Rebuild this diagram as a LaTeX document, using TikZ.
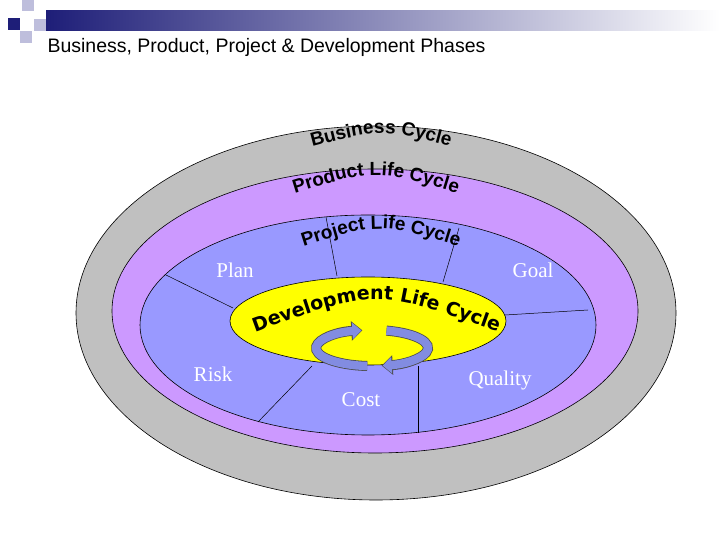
\documentclass[tikz,border=0pt]{standalone}
\usepackage{fontspec}
\setmainfont{Liberation Serif}
\setsansfont{Liberation Sans}
\newfontfamily\heavy{DejaVu Sans}
\usetikzlibrary{decorations.text,arrows.meta}
\definecolor{bgray}{RGB}{192,192,192}
\definecolor{bpurple}{RGB}{204,153,255}
\definecolor{bblue}{RGB}{153,153,255}
\definecolor{byellow}{RGB}{255,255,0}
\definecolor{navy}{RGB}{30,30,120}
\definecolor{lnavy}{RGB}{190,190,220}
\definecolor{ringblue}{RGB}{130,140,225}
\tikzset{
  ring/.style={draw=black, line width=0.6pt},
  divider/.style={draw=black, line width=0.5pt},
  lbl/.style={text=white, font=\fontsize{21}{23}\selectfont},
  arctext/.style={decorate, decoration={text along path, text align=center,
     text={#1}, text color=black}},
  cycout/.style={draw=black!70, line width=10pt, -{Triangle[width=19pt,length=11pt]}},
  cyc/.style={draw=ringblue, line width=8.4pt, -{Triangle[width=16pt,length=9pt]}}
}
\begin{document}
\begin{tikzpicture}[x=1pt,y=1pt]
\useasboundingbox (0,0) rectangle (720,540);
\fill[white] (0,0) rectangle (720,540);
% header
\shade[left color=navy, right color=white] (46,509) rectangle (720,529);
\fill[lnavy] (22,529) rectangle (34,540);
\fill[navy] (8,510) rectangle (20,522);
\fill[lnavy] (34,509) rectangle (46,521);
\fill[lnavy] (20,497) rectangle (32,509);
\node[anchor=base west, font=\sffamily\fontsize{19.5}{21}\selectfont] (title) at (44,487) {Business, Product, Project \& Development Phases};
% ellipses
\path[ring, fill=bgray] (376,227) ellipse [x radius=300, y radius=187];
\path[ring, fill=bpurple] (375,229) ellipse [x radius=263, y radius=142];
\path[ring, fill=bblue] (368,215) ellipse [x radius=228, y radius=110];
\path[divider] (326,323) -- (337,264);
\path[divider] (459,312) -- (443,258);
\path[divider] (166,265) -- (233,232);
\path[divider] (505,225) -- (588,230);
\path[divider] (312,174) -- (258,118);
\path[divider] (418,174) -- (418,107);
\path[ring, fill=byellow] (368,219) ellipse [x radius=138, y radius=44];
% labels
\node[lbl] (plan) at (235,270) {Plan};
\node[lbl] (goal) at (533,270) {Goal};
\node[lbl] (risk) at (213,166) {Risk};
\node[lbl] (cost) at (361,140) {Cost};
\node[lbl] (quality) at (500,160) {Quality};
% arched texts
\path[arctext={|\sffamily\bfseries\fontsize{19}{19}\selectfont|Business Cycle}] (300,390) .. controls (383,412) .. (462,390);
\path[arctext={|\sffamily\bfseries\fontsize{19}{19}\selectfont|Product Life Cycle}] (286,344) .. controls (376,372) .. (466,344);
\path[arctext={|\sffamily\bfseries\fontsize{19}{19}\selectfont|Project Life Cycle}] (296,291) .. controls (380,318) .. (466,291);
\path[arctext={|\heavy\bfseries\fontsize{19}{19}\selectfont|Development Life Cycle}] (250,206) .. controls (376,252) .. (503,206);
% cycle arrows
\draw[cycout] (367.2,174) arc[start angle=265, end angle=100, x radius=56, y radius=18];
\draw[cyc] (367.2,174) arc[start angle=265, end angle=101, x radius=56, y radius=18];
\draw[cycout] (386.5,209.4) arc[start angle=75, end angle=-80, x radius=56, y radius=18];
\draw[cyc] (386.5,209.4) arc[start angle=75, end angle=-79, x radius=56, y radius=18];
\end{tikzpicture}
\end{document}
